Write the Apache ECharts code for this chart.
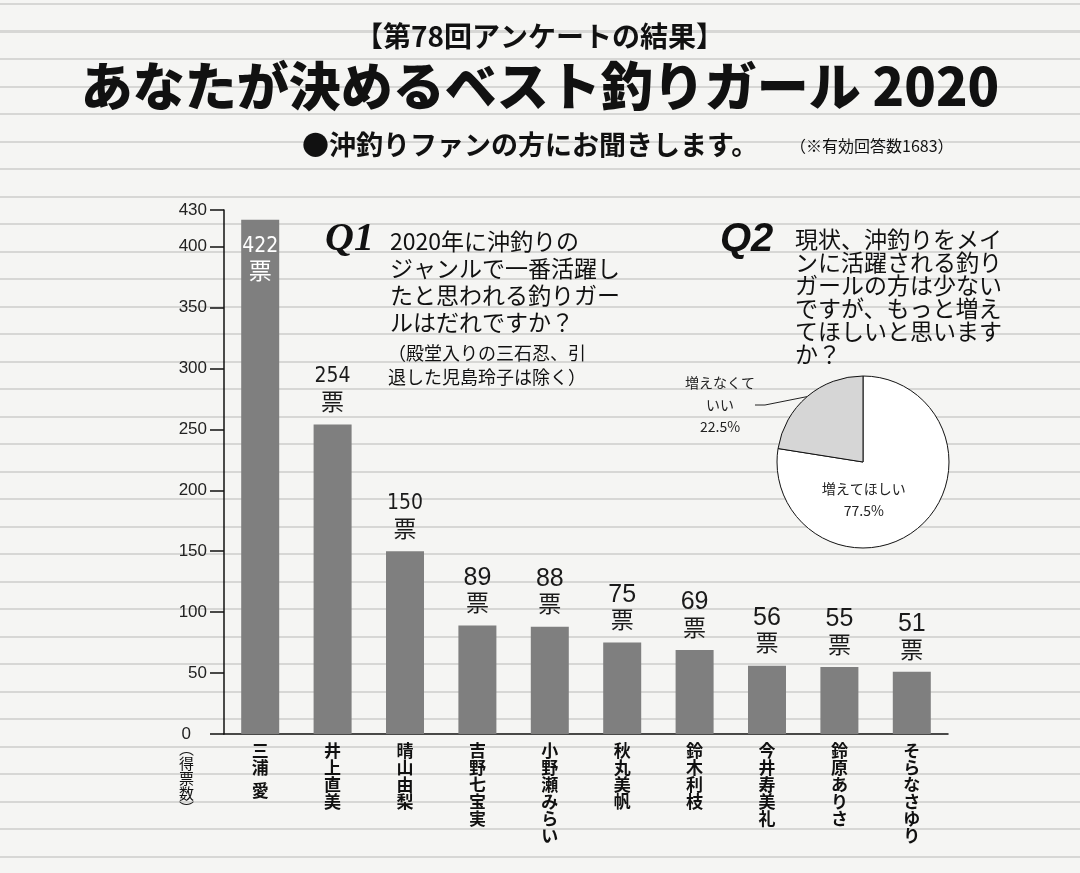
<!DOCTYPE html>
<html>
<head>
<meta charset="utf-8">
<script src="https://cdn.jsdelivr.net/npm/echarts@6/dist/echarts.min.js"></script>
<style>
  html, body { margin: 0; padding: 0; }
  body {
    width: 1080px; height: 873px;
    background-color: #f5f5f3;
    background-image: repeating-linear-gradient(to bottom,
      transparent 0px, transparent 3px, #d7d7d5 3px, #d7d7d5 5px, transparent 5px, transparent 27.5px);
  }
  #chart { width: 1080px; height: 873px; }
</style>
</head>
<body>
<div id="chart"></div>
<script>
// ---- data ----
const categories = ['三浦 愛', '井上直美', '晴山由梨', '吉野七宝実', '小野瀬みらい', '秋丸美帆', '鈴木利枝', '今井寿美礼', '鈴原ありさ', 'そらなさゆり'];
const votes = [422, 254, 150, 89, 88, 75, 69, 56, 55, 51];
const voteUnit = '票';
const yAxisName = '得票数';
const pieNames = ['増えてほしい', '増えなくて\nいい'];
const pieValues = [77.5, 22.5];

const titleText = '【第78回アンケートの結果】';
const mainTitle = 'あなたが決めるベスト釣りガール 2020';
const subTitle = '●沖釣りファンの方にお聞きします。';
const noteText = '（※有効回答数1683）';
const q1Text = '2020年に沖釣りの\nジャンルで一番活躍し\nたと思われる釣りガー\nルはだれですか？';
const q1Note = '（殿堂入りの三石忍、引\n退した児島玲子は除く）';
const q2Text = '現状、沖釣りをメイ\nンに活躍される釣り\nガールの方は少ない\nですが、もっと増え\nてほしいと思います\nか？';

// ---- chart ----
const JP = '"Noto Sans CJK JP", "Noto Sans", sans-serif';
const NUM = '"Liberation Sans", Arial, sans-serif';
const NARROW = '"Liberation Sans Narrow", "DejaVu Sans Condensed", "Liberation Sans", sans-serif';
const chart = echarts.init(document.getElementById('chart'), null, { renderer: 'canvas' });

const barData = votes.map((v, i) => {
  const narrow = v >= 100;
  const inside = i === 0;
  return {
    value: v,
    label: {
      show: true,
      position: inside ? 'insideTop' : 'top',
      distance: inside ? 14 : 11,
      formatter: p => `{n|${p.value}}\n{u|${voteUnit}}`,
      rich: {
        n: { fontFamily: narrow ? NARROW : NUM, fontSize: narrow ? 21 : 25, lineHeight: 25,
             color: inside ? '#ffffff' : '#1a1a1a', align: 'center' },
        u: { fontFamily: JP, fontSize: 23, lineHeight: 24, color: inside ? '#ffffff' : '#1a1a1a', align: 'center' }
      }
    }
  };
});

const option = {
  backgroundColor: 'transparent',
  animation: false,
  title: [
    { text: titleText, left: 355, top: 22, padding: 0,
      textStyle: { fontFamily: JP, fontSize: 28, fontWeight: 'bold', color: '#111' } },
    { text: mainTitle, left: 'center', top: 60, padding: 0,
      textStyle: { fontFamily: JP, fontSize: 52, fontWeight: 900, color: '#111' } },
    { text: subTitle, left: 302, top: 131, padding: 0,
      textStyle: { fontFamily: JP, fontSize: 27, fontWeight: 'bold', color: '#111' } },
    { text: noteText, left: 790, top: 138, padding: 0,
      textStyle: { fontFamily: JP, fontSize: 16, fontWeight: 'normal', color: '#111' } },
    { text: 'Q1', left: 325, top: 220, padding: 0,
      textStyle: { fontFamily: '"Liberation Serif", serif', fontSize: 40, fontStyle: 'italic', fontWeight: 'bold', color: '#111' } },
    { text: q1Text, left: 390, top: 228, padding: 0,
      textStyle: { fontFamily: JP, fontSize: 23, lineHeight: 27, fontWeight: 'normal', color: '#111' } },
    { text: q1Note, left: 388, top: 341, padding: 0,
      textStyle: { fontFamily: JP, fontSize: 18, lineHeight: 24, fontWeight: 'normal', color: '#111' } },
    { text: 'Q2', left: 720, top: 220, padding: 0,
      textStyle: { fontFamily: '"Liberation Sans", sans-serif', fontSize: 40, fontStyle: 'italic', fontWeight: 'bold', color: '#111' } },
    { text: q2Text, left: 795, top: 228, padding: 0,
      textStyle: { fontFamily: JP, fontSize: 23, lineHeight: 23, fontWeight: 'normal', color: '#111' } },
    { text: '︵\n' + yAxisName.split('').join('\n') + '\n︶', left: 179, top: 741, padding: 0,
      textStyle: { fontFamily: JP, fontSize: 15, lineHeight: 15, fontWeight: 'normal', color: '#111' } }
  ],
  grid: { left: 224, right: 132, top: 210, bottom: 139, containLabel: false },
  xAxis: {
    type: 'category',
    data: categories,
    axisLine: { lineStyle: { color: '#111', width: 1.5 } },
    axisTick: { show: false },
    axisLabel: {
      interval: 0,
      margin: 8,
      verticalAlign: 'top',
      formatter: name => name.split('').map(c => c === ' ' ? '{s| }' : '{a|' + c + '}').join('\n'),
      rich: {
        a: { fontFamily: JP, fontSize: 17, lineHeight: 17, fontWeight: 'bold', color: '#111', align: 'center' },
        s: { fontSize: 6, lineHeight: 6 }
      }
    }
  },
  yAxis: {
    type: 'value',
    min: 0, max: 430, interval: 50,
    splitLine: { show: false },
    axisLine: { show: true, lineStyle: { color: '#111', width: 1.5 } },
    axisTick: { show: true, length: 14, lineStyle: { color: '#111', width: 1.5 } },
    axisLabel: {
      margin: 17,
      fontFamily: NUM, fontSize: 17, color: '#222',
      formatter: v => v === 0 ? '{z|0}' : String(v),
      rich: { z: { fontFamily: NUM, fontSize: 17, color: '#222', padding: [0, 16, 0, 0] } }
    }
  },
  series: [
    {
      type: 'bar',
      data: barData,
      barWidth: 38,
      itemStyle: { color: '#7f7f7f' },
      z: 3
    },
    {
      type: 'pie',
      center: [863, 462],
      radius: 86,
      startAngle: 90,
      clockwise: true,
      data: pieNames.map((n, i) => ({ name: n, value: pieValues[i] })),
      itemStyle: { borderColor: '#111', borderWidth: 1 },
      color: ['#ffffff', '#d6d6d6'],
      label: {
        fontFamily: JP, fontSize: 14, lineHeight: 22, color: '#222', align: 'center',
        formatter: p => p.name + '\n' + p.value + '%'
      },
      labelLine: { lineStyle: { color: '#222', width: 1 }, length: 10, length2: 10 },
      labelLayout: function (params) {
        if (params.dataIndex === 1) {
          return { x: 720, y: 405, align: 'center', verticalAlign: 'middle' };
        }
        return {};
      },
      emphasis: { disabled: true },
      z: 2
    }
  ]
};
// per-item label positioning for the pie
option.series[1].data[0].label = { position: 'inside', offset: [-29, 3] };
option.series[1].data[1].label = { position: 'outside' };

chart.setOption(option);
</script>
</body>
</html>
